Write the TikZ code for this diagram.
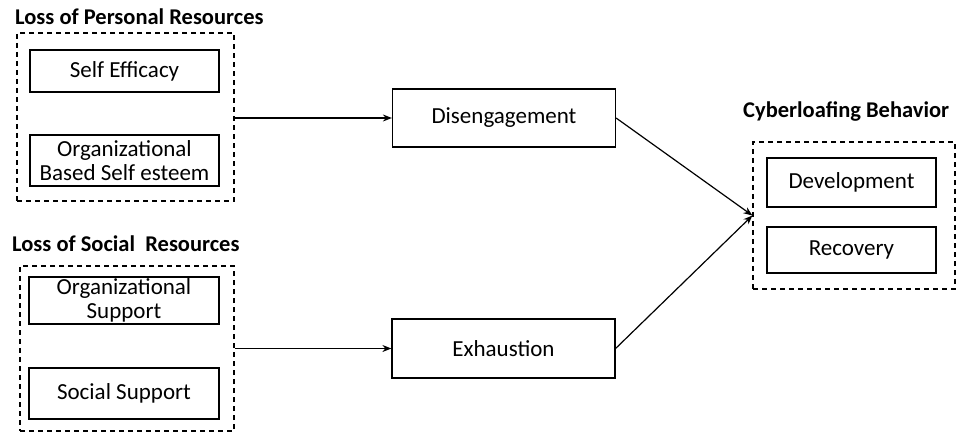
\documentclass[tikz,border=0pt]{standalone}
\usepackage{fontspec}
\setmainfont{Carlito}
\usetikzlibrary{arrows.meta}
\begin{document}
\begin{tikzpicture}[x=1pt,y=-1pt,
  box/.style={draw, line width=1.2pt, inner sep=0pt, align=center, font=\fontsize{23}{24}\selectfont},
  group/.style={draw, dashed, dash pattern=on 5pt off 4pt, line width=1.2pt, inner sep=0pt},
  title/.style={anchor=base west, inner sep=0pt, font=\fontsize{22.5}{24}\selectfont\bfseries},
  link/.style={line width=1.2pt, -{Stealth[length=9pt,width=7pt]}}]
\useasboundingbox (0,0) rectangle (956,433);
% titles
\node[title] (tpr) at (15,25) {Loss of Personal Resources};
\node[title] (tsr) at (12,251) {Loss of Social\ \ Resources};
\node[title] (tcb) at (743,118) {Cyberloafing Behavior};
% groups
\node[group, minimum width=217pt, minimum height=168pt] (pr) at (125.5,117) {};
\node[group, minimum width=214pt, minimum height=165pt] (sr) at (127,348.5) {};
\node[group, minimum width=202pt, minimum height=147pt] (cb) at (854,215.5) {};
% inner boxes
\node[box, minimum width=189pt, minimum height=42pt] (se) at (124.5,71) {Self Efficacy};
\node[box, minimum width=189pt, minimum height=51pt] (obse) at (124.5,160.5) {Organizational\\Based Self esteem};
\node[box, minimum width=190pt, minimum height=47pt] (os) at (124,300.5) {Organizational\\Support};
\node[box, minimum width=190pt, minimum height=51pt] (ss) at (124,393.5) {Social Support};
\node[box, minimum width=169pt, minimum height=49pt] (dev) at (851.5,182.5) {Development};
\node[box, minimum width=169pt, minimum height=46pt] (rec) at (851.5,250) {Recovery};
% mediators
\node[box, minimum width=223pt, minimum height=58pt] (dis) at (504,118) {Disengagement};
\node[box, minimum width=223pt, minimum height=59pt] (exh) at (503.5,348.5) {Exhaustion};
% connectors
\draw[link] (pr.east |- dis.west) -- (dis.west);
\draw[link] (sr.east) -- (exh.west);
\draw[link] (dis.east) -- (cb.west);
\draw[link] (exh.east) -- (cb.west);
\end{tikzpicture}
\end{document}
